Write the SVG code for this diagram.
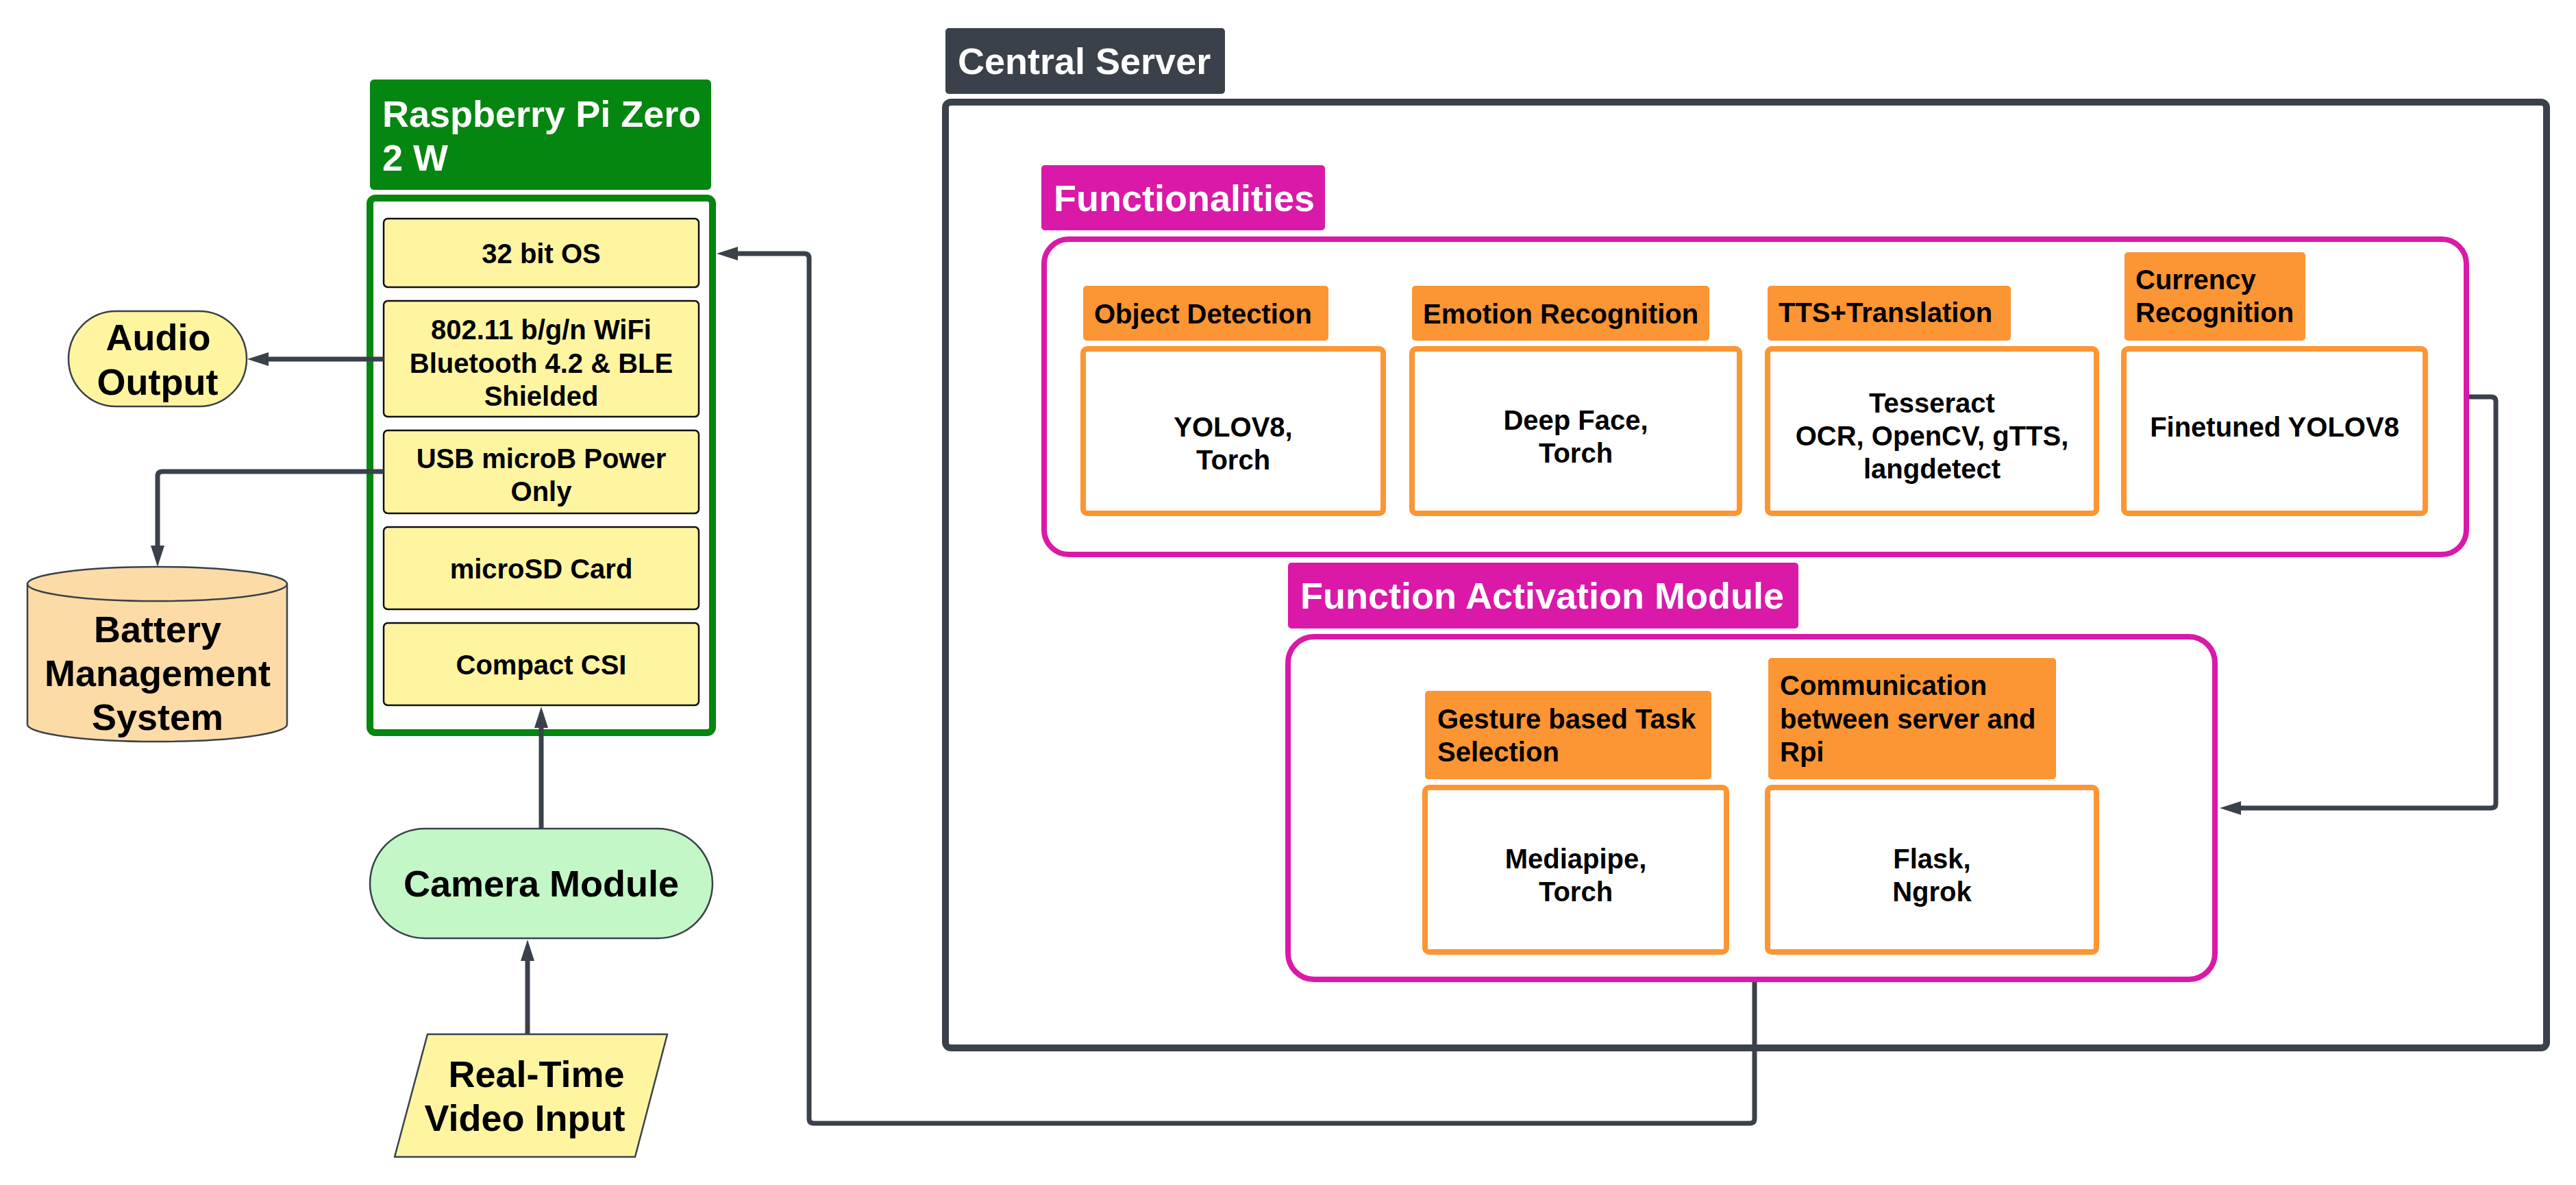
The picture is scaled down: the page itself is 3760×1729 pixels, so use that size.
<svg xmlns="http://www.w3.org/2000/svg" width="3760" height="1729" viewBox="0 0 3760 1729">
<style>
text{font-family:"Liberation Sans",Arial,Helvetica,sans-serif;font-weight:bold;fill:#000}
.t54{font-size:54px}
.t40{font-size:40px}
.w{fill:#fff}
.c{text-anchor:middle}
.titleDark{fill:#3a414a}
.titleMag{fill:#da19a8}
.titleGreen{fill:#048610}
.label{fill:#fc9533}
.content{fill:#fff;stroke:#fc9533;stroke-width:8}
.yel{fill:#fff5a1;stroke:#111;stroke-width:2.5}
.shape{stroke:#3a414a;stroke-width:2.5}
.conn{fill:none;stroke:#3a414a;stroke-width:7;stroke-linejoin:round}
</style>
<defs>
<marker id="arr" viewBox="-2 -11 33 22" markerUnits="userSpaceOnUse" markerWidth="33" markerHeight="22" refX="0" refY="0" orient="auto">
<path d="M-2,-10 L29,0 L-2,10 Z" fill="#3a414a"/>
</marker>
</defs>
<rect width="3760" height="1729" fill="#fff"/>

<g id="central-server">
<rect x="1380" y="149" width="2337" height="1380" rx="8" fill="#fff" stroke="#3a414a" stroke-width="10"/>
<rect class="titleDark" x="1380" y="41" width="408" height="96" rx="5"/>
<text class="t54 w" x="1398" y="108">Central Server</text>
</g>

<g id="functionalities">
<rect x="1524" y="349" width="2076" height="460" rx="36" fill="#fff" stroke="#da19a8" stroke-width="8"/>
<rect class="titleMag" x="1520" y="241" width="414" height="95" rx="5"/>
<text class="t54 w" x="1538" y="308">Functionalities</text>
</g>

<g id="object-detection">
<rect class="label" x="1581" y="417" width="358" height="80" rx="5"/>
<text class="t40" x="1597" y="472">Object Detection</text>
<rect class="content" x="1581" y="509" width="438" height="240" rx="6"/>
<text class="t40 c" x="1800" y="637">YOLOV8,</text>
<text class="t40 c" x="1800" y="685">Torch</text>
</g>

<g id="emotion-recognition">
<rect class="label" x="2061" y="417" width="434" height="80" rx="5"/>
<text class="t40" x="2077" y="472">Emotion Recognition</text>
<rect class="content" x="2061" y="509" width="478" height="240" rx="6"/>
<text class="t40 c" x="2300" y="627">Deep Face,</text>
<text class="t40 c" x="2300" y="675">Torch</text>
</g>

<g id="tts-translation">
<rect class="label" x="2580" y="417" width="355" height="80" rx="5"/>
<text class="t40" x="2596" y="470">TTS+Translation</text>
<rect class="content" x="2580" y="509" width="480" height="240" rx="6"/>
<text class="t40 c" x="2820" y="602">Tesseract</text>
<text class="t40 c" x="2820" y="650">OCR, OpenCV, gTTS,</text>
<text class="t40 c" x="2820" y="698">langdetect</text>
</g>

<g id="currency-recognition">
<rect class="label" x="3101" y="368" width="264" height="129" rx="5"/>
<text class="t40" x="3117" y="422">Currency</text>
<text class="t40" x="3117" y="470">Recognition</text>
<rect class="content" x="3100" y="509" width="440" height="240" rx="6"/>
<text class="t40 c" x="3320" y="637">Finetuned YOLOV8</text>
</g>

<g id="function-activation-module">
<rect x="1880" y="929" width="1353" height="500" rx="38" fill="#fff" stroke="#da19a8" stroke-width="8"/>
<rect class="titleMag" x="1880" y="821" width="745" height="96" rx="5"/>
<text class="t54 w" x="1898" y="888">Function Activation Module</text>
</g>

<g id="gesture-task-selection">
<rect class="label" x="2080" y="1008" width="418" height="129" rx="5"/>
<text class="t40" x="2098" y="1063">Gesture based Task</text>
<text class="t40" x="2098" y="1111">Selection</text>
<rect class="content" x="2080" y="1149" width="440" height="240" rx="6"/>
<text class="t40 c" x="2300" y="1267">Mediapipe,</text>
<text class="t40 c" x="2300" y="1315">Torch</text>
</g>

<g id="server-rpi-communication">
<rect class="label" x="2581" y="960" width="420" height="177" rx="5"/>
<text class="t40" x="2598" y="1014">Communication</text>
<text class="t40" x="2598" y="1063">between server and</text>
<text class="t40" x="2598" y="1111">Rpi</text>
<rect class="content" x="2580" y="1149" width="480" height="240" rx="6"/>
<text class="t40 c" x="2820" y="1267">Flask,</text>
<text class="t40 c" x="2820" y="1315">Ngrok</text>
</g>

<g id="raspberry-pi">
<rect class="titleGreen" x="540" y="116" width="498" height="161" rx="6"/>
<text class="t54 w" x="558" y="185">Raspberry Pi Zero</text>
<text class="t54 w" x="558" y="249">2 W</text>
<rect x="540" y="289" width="500" height="780" rx="8" fill="#fff" stroke="#048610" stroke-width="10"/>
</g>

<g id="os">
<rect class="yel" x="560" y="319" width="460" height="100" rx="6"/>
<text class="t40 c" x="790" y="384">32 bit OS</text>
</g>
<g id="wifi">
<rect class="yel" x="560" y="439" width="460" height="169" rx="6"/>
<text class="t40 c" x="790" y="495">802.11 b/g/n WiFi</text>
<text class="t40 c" x="790" y="544">Bluetooth 4.2 &amp; BLE</text>
<text class="t40 c" x="790" y="592">Shielded</text>
</g>
<g id="usb">
<rect class="yel" x="560" y="628" width="460" height="121" rx="6"/>
<text class="t40 c" x="790" y="683">USB microB Power</text>
<text class="t40 c" x="790" y="731">Only</text>
</g>
<g id="microsd">
<rect class="yel" x="560" y="769" width="460" height="120" rx="6"/>
<text class="t40 c" x="790" y="844">microSD Card</text>
</g>
<g id="csi">
<rect class="yel" x="560" y="909" width="460" height="120" rx="6"/>
<text class="t40 c" x="790" y="984">Compact CSI</text>
</g>

<g id="audio-output">
<rect class="shape" x="100" y="454" width="260" height="139" rx="69.5" fill="#fff5a1"/>
<text class="t54 c" x="231" y="511">Audio</text>
<text class="t54 c" x="230" y="576">Output</text>
</g>

<g id="battery-management-system">
<path class="shape" d="M40,852 V1057 A189.5,25 0 0 0 419,1057 V852 Z" fill="#fddba6"/>
<ellipse class="shape" cx="229.5" cy="852" rx="189.5" ry="25" fill="#fddba6"/>
<text class="t54 c" x="230" y="937">Battery</text>
<text class="t54 c" x="230" y="1001">Management</text>
<text class="t54 c" x="230" y="1065">System</text>
</g>

<g id="camera-module">
<rect class="shape" x="540" y="1209" width="500" height="160" rx="80" fill="#c3f7c8"/>
<text class="t54 c" x="790" y="1308">Camera Module</text>
</g>

<g id="video-input">
<path class="shape" d="M624,1509 L974,1509 L927,1688 L576,1688 Z" fill="#fff5a1" stroke-linejoin="round"/>
<text class="t54 c" x="783" y="1586">Real-Time</text>
<text class="t54 c" x="766" y="1650">Video Input</text>
</g>

<g id="connectors">
<path class="conn" d="M560,524 L390,524" marker-end="url(#arr)"/>
<path class="conn" d="M560,688 L237,688 Q230,688 230,695 L230,798" marker-end="url(#arr)"/>
<path class="conn" d="M790,1209 L790,1060" marker-end="url(#arr)"/>
<path class="conn" d="M770,1509 L770,1400" marker-end="url(#arr)"/>
<path class="conn" d="M3604,579 L3636,579 Q3643,579 3643,586 L3643,1172 Q3643,1179 3636,1179 L3269,1179" marker-end="url(#arr)"/>
<path class="conn" d="M2561,1433 L2561,1632 Q2561,1639 2554,1639 L1188,1639 Q1181,1639 1181,1632 L1181,377 Q1181,370 1174,370 L1075,370" marker-end="url(#arr)"/>
</g>
</svg>
